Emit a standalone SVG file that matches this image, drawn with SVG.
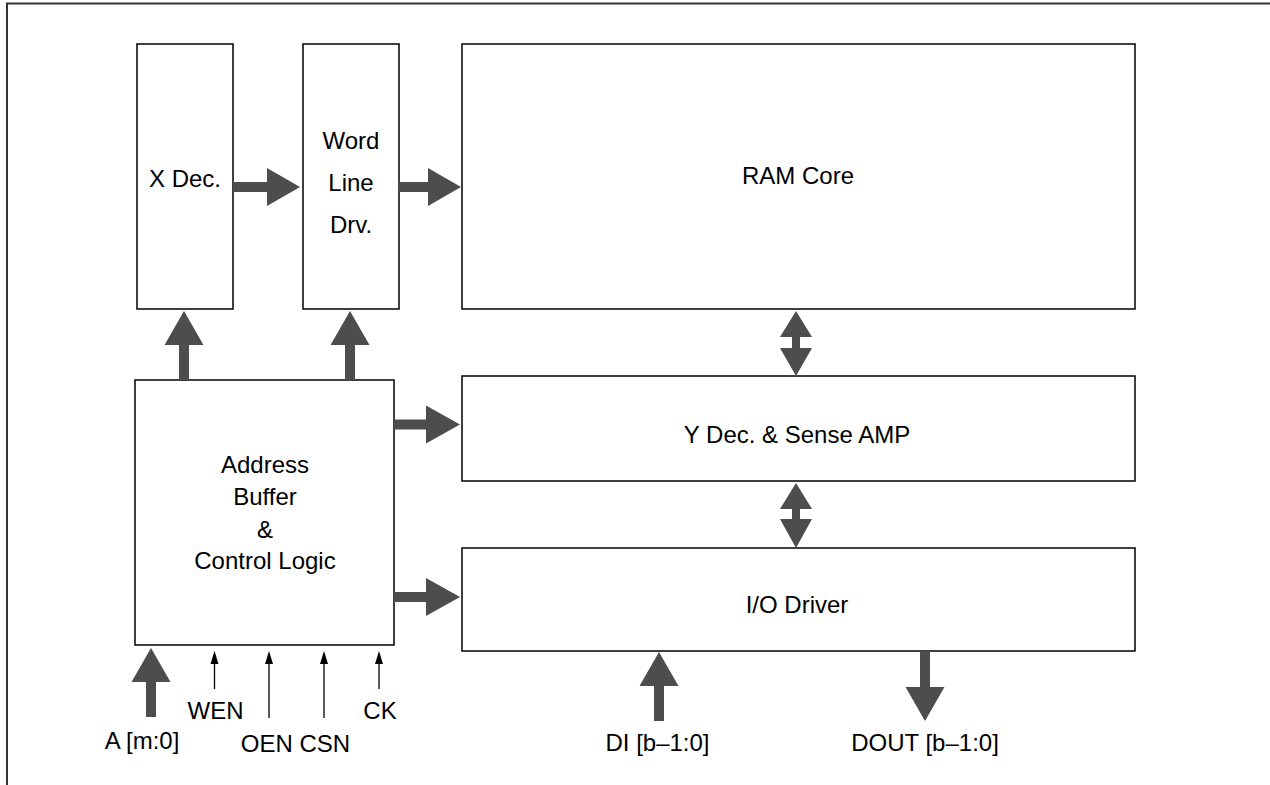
<svg xmlns="http://www.w3.org/2000/svg" width="1270" height="785" viewBox="0 0 1270 785">
<style>
.box{fill:#fff;stroke:#000;stroke-width:1.5}
.t{font-family:"Liberation Sans",Arial,sans-serif;font-size:24px;fill:#000;text-anchor:middle}
.fat{fill:#4d4d4d}
.thin{stroke:#000;stroke-width:1.3;fill:none}
.head{fill:#000}
.frame{stroke:#333;stroke-width:2;fill:none}
</style>
<rect width="1270" height="785" fill="#fff"/>
<path class="frame" d="M7,785 V3.5 H1270"/>

<g id="xdec"><rect class="box" x="137" y="44" width="96" height="265"/><text class="t" x="185" y="187">X Dec.</text></g>
<g id="wld"><rect class="box" x="303" y="44" width="96" height="265"/>
<text class="t" x="351" y="149">Word</text><text class="t" x="351" y="191">Line</text><text class="t" x="351" y="233">Drv.</text></g>
<g id="ram"><rect class="box" x="462" y="44" width="673" height="265"/><text class="t" x="798" y="184">RAM Core</text></g>
<g id="ydec"><rect class="box" x="462" y="376" width="673" height="105"/><text class="t" x="797" y="443">Y Dec. &amp; Sense AMP</text></g>
<g id="io"><rect class="box" x="462" y="548" width="673" height="103"/><text class="t" x="797" y="613">I/O Driver</text></g>
<g id="abuf"><rect class="box" x="135" y="380" width="259" height="265"/>
<text class="t" x="265" y="473">Address</text><text class="t" x="265" y="505">Buffer</text><text class="t" x="265" y="538">&amp;</text><text class="t" x="265" y="569">Control Logic</text></g>

<g id="connectors">
<polygon class="fat" points="179,380 179,345 164.5,345 184,311 203.5,345 189,345 189,380"/>
<polygon class="fat" points="345,380 345,345 330.5,345 350,311 369.5,345 355,345 355,380"/>
<polygon class="fat" points="233,182 267,182 267,168 300,187 267,206 267,192 233,192"/>
<polygon class="fat" points="399,182 428,182 428,168 461,187 428,206 428,192 399,192"/>
<polygon class="fat" points="394,419.5 426,419.5 426,405.5 460,424.5 426,443.5 426,429.5 394,429.5"/>
<polygon class="fat" points="394,592 426,592 426,578 460,597 426,616 426,602 394,602"/>
<polygon class="fat" points="796,311 812,337 800,337 800,348 812,348 796,376 780,348 792,348 792,337 780,337"/>
<polygon class="fat" points="796,483 812,509 800,509 800,519 812,519 796,548 780,519 792,519 792,509 780,509"/>
<polygon class="fat" points="146,717 146,682 131.5,682 151,648 170.5,682 156,682 156,717"/>
<polygon class="fat" points="654,721 654,686 639.5,686 659,652 678.5,686 664,686 664,721"/>
<polygon class="fat" points="920,651 930,651 930,687 944.5,687 925,721 905.5,687 920,687"/>
<line class="thin" x1="214.5" y1="689" x2="214.5" y2="660"/>
<polygon class="head" points="214.5,651 218.5,664 210.5,664"/>
<line class="thin" x1="269" y1="718" x2="269" y2="660"/>
<polygon class="head" points="269,651 273,664 265,664"/>
<line class="thin" x1="324" y1="718" x2="324" y2="660"/>
<polygon class="head" points="324,651 328,664 320,664"/>
<line class="thin" x1="379" y1="689" x2="379" y2="660"/>
<polygon class="head" points="379,651 383,664 375,664"/>
</g>
<g id="labels">
<text class="t" x="142" y="749">A [m:0]</text>
<text class="t" x="215.5" y="719">WEN</text>
<text class="t" x="295.5" y="752">OEN CSN</text>
<text class="t" x="380" y="719">CK</text>
<text class="t" x="657.5" y="751">DI [b–1:0]</text>
<text class="t" x="925" y="751">DOUT [b–1:0]</text>
</g>
</svg>
